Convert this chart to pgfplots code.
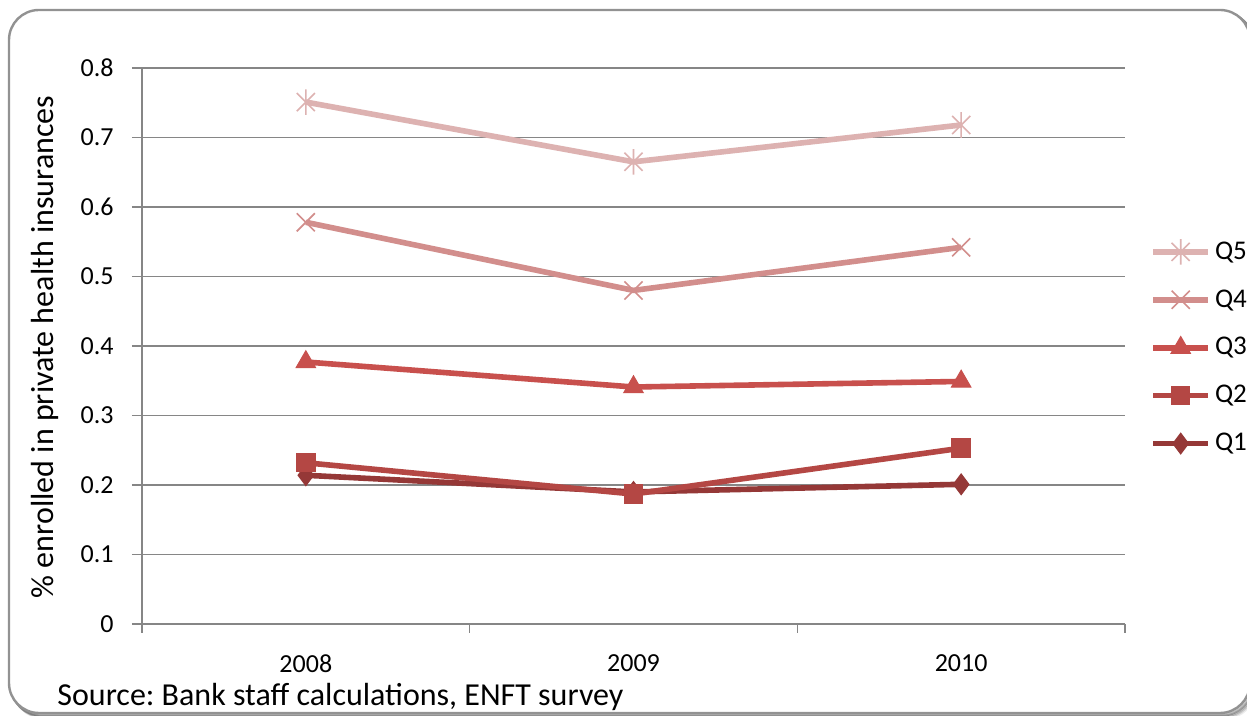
\documentclass[border=0pt]{standalone}
\usepackage{pgfplots}
\pgfplotsset{compat=1.18}
\usepackage{fontspec}
\setmainfont{Carlito}
\frenchspacing

\definecolor{qfive}{HTML}{DDB2B1}
\definecolor{qfour}{HTML}{D28E8C}
\definecolor{qthree}{HTML}{C8504D}
\definecolor{qtwo}{HTML}{B44744}
\definecolor{qone}{HTML}{953837}
\definecolor{gridgray}{HTML}{868686}

% star marker: an x crossed by a vertical bar
\pgfdeclareplotmark{xstar}{%
  \pgfpathmoveto{\pgfqpoint{-.70710678\pgfplotmarksize}{-.70710678\pgfplotmarksize}}%
  \pgfpathlineto{\pgfqpoint{.70710678\pgfplotmarksize}{.70710678\pgfplotmarksize}}%
  \pgfpathmoveto{\pgfqpoint{-.70710678\pgfplotmarksize}{.70710678\pgfplotmarksize}}%
  \pgfpathlineto{\pgfqpoint{.70710678\pgfplotmarksize}{-.70710678\pgfplotmarksize}}%
  \pgfpathmoveto{\pgfqpoint{0pt}{-\pgfplotmarksize}}%
  \pgfpathlineto{\pgfqpoint{0pt}{\pgfplotmarksize}}%
  \pgfusepathqstroke}
\pgfdeclareplotmark{xcross}{%
  \pgfpathmoveto{\pgfqpoint{-.70710678\pgfplotmarksize}{-.70710678\pgfplotmarksize}}%
  \pgfpathlineto{\pgfqpoint{.70710678\pgfplotmarksize}{.70710678\pgfplotmarksize}}%
  \pgfpathmoveto{\pgfqpoint{-.70710678\pgfplotmarksize}{.70710678\pgfplotmarksize}}%
  \pgfpathlineto{\pgfqpoint{.70710678\pgfplotmarksize}{-.70710678\pgfplotmarksize}}%
  \pgfusepathqstroke}

\pgfplotstableread{
x  q1    q2    q3    q4    q5
0  0.214 0.232 0.377 0.578 0.751
1  0.190 0.187 0.341 0.480 0.665
2  0.201 0.253 0.349 0.542 0.718
}\enrolled

\begin{document}
\begin{tikzpicture}[x=0.5pt,y=0.5pt]
\useasboundingbox (0,0) rectangle (1247,716);
\begin{scope}
  \clip (0,0) rectangle (1247,716);
  % soft shadow under the chart frame
  \foreach \o/\a in {5/0.08,4/0.12,3/0.18,2/0.25}{
    \draw[black, opacity=\a, line width=1.5pt, rounded corners=15pt]
      (9+\o,706-\o) rectangle (1250+\o,3-\o);
  }
  \draw[fill=white, draw=gridgray!90, line width=1.2pt, rounded corners=15pt]
    (9,706) rectangle (1250,3);
\end{scope}

\begin{axis}[
  at={(71pt,46pt)}, anchor=south west,
  scale only axis, width=491.5pt, height=278pt,
  xmin=-0.5, xmax=2.5, ymin=0, ymax=0.8,
  axis x line*=bottom, axis y line*=left,
  axis line style={draw=gridgray, line width=0.8pt, -},
  xtick={0,1,2}, xticklabels={2008,2009,2010},
  minor xtick={-0.5,0.5,1.5,2.5},
  xtick style={draw=none},
  minor x tick style={draw=gridgray, line width=0.8pt},
  minor tick length=4.5pt,
  ytick={0,0.1,0.2,0.3,0.4,0.5,0.6,0.7,0.8},
  yticklabels={0,0.1,0.2,0.3,0.4,0.5,0.6,0.7,0.8},
  ytick style={draw=gridgray, line width=0.8pt},
  major tick length=5pt,
  tick align=outside,
  ymajorgrids,
  major grid style={draw=gridgray, line width=0.8pt},
  ticklabel style={font=\fontsize{13}{15}\selectfont, text=black},
  yticklabel style={xshift=-4.5pt},
  xticklabel style={yshift=-8pt, inner ysep=1pt},
  line width=2.8pt,
  legend style={at={(1.023,0.70)}, anchor=north west, draw=none, fill=none,
    font=\fontsize{13.5}{15}\selectfont, row sep=9.7pt,
    /tikz/every even column/.append style={column sep=0pt},
    legend cell align=left, inner sep=0pt},
  legend image code/.code={%
    \draw[mark repeat=2, mark phase=2] plot coordinates {(0pt,0pt) (13.75pt,0pt) (27.5pt,0pt)};},
  reverse legend,
]
\addplot[color=qone, mark=diamond*, mark size=5.2pt, mark options={solid, line width=0.5pt}]
  table[x=x, y=q1] {\enrolled};
\addlegendentry{Q1}
\addplot[color=qtwo, mark=square*, mark size=4.6pt, mark options={solid, line width=0.5pt}]
  table[x=x, y=q2] {\enrolled};
\addlegendentry{Q2}
\addplot[color=qthree, mark=triangle*, mark size=5.6pt, mark options={solid, line width=0.5pt}]
  table[x=x, y=q3] {\enrolled};
\addlegendentry{Q3}
\addplot[color=qfour, mark=xcross, mark size=6.4pt, mark options={solid, line width=0.8pt}]
  table[x=x, y=q4] {\enrolled};
\addlegendentry{Q4}
\addplot[color=qfive, mark=xstar, mark size=6.4pt, mark options={solid, line width=0.8pt}]
  table[x=x, y=q5] {\enrolled};
\addlegendentry{Q5}
\end{axis}

\node[rotate=90, font=\fontsize{16}{18}\selectfont] at (45,369) {\% enrolled in private health insurances};
\node[anchor=base west, font=\fontsize{16}{18}\selectfont, inner sep=0pt] at (57,10) {Source: Bank staff calculations, ENFT survey};
\end{tikzpicture}
\end{document}
